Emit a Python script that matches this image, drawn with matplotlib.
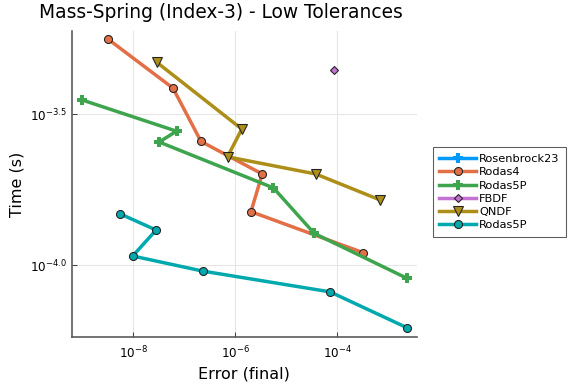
import matplotlib
matplotlib.use("Agg")
import matplotlib.pyplot as plt
import numpy as np

# data (log10 values)
rosen23_err = []
rosen23_time = []
rodas4_err = [-8.49, -7.22, -6.67, -5.47, -5.69, -3.49]
rodas4_time = [-3.251, -3.413, -3.590, -3.698, -3.823, -3.959]
rodas5p_err = [-9.01, -7.15, -7.49, -5.25, -4.45, -2.63]
rodas5p_time = [-3.452, -3.556, -3.592, -3.744, -3.895, -4.044]
fbdf_err = [-4.07]
fbdf_time = [-3.352]
qndf_err = [-7.54, -5.87, -6.15, -4.42, -3.16]
qndf_time = [-3.327, -3.549, -3.641, -3.698, -3.784]
rodas5p2_err = [-8.26, -7.55, -8.01, -6.64, -4.14, -2.63]
rodas5p2_time = [-3.830, -3.884, -3.970, -4.020, -4.089, -4.208]

series = [
    ("Rosenbrock23", rosen23_err, rosen23_time, "#009AFA", "P", 8),
    ("Rodas4", rodas4_err, rodas4_time, "#E36F47", "o", 6),
    ("Rodas5P", rodas5p_err, rodas5p_time, "#3EA44E", "P", 7),
    ("FBDF", fbdf_err, fbdf_time, "#C371D2", "D", 4.5),
    ("QNDF", qndf_err, qndf_time, "#AC8E18", "v", 7),
    ("Rodas5P", rodas5p2_err, rodas5p2_time, "#00A9AD", "o", 6),
]

fig = plt.figure(figsize=(6, 4), dpi=96)
ax = fig.add_axes([0.125, 0.123, 0.5984, 0.796])

for name, e, t, c, m, ms in series:
    e = 10.0 ** np.array(e, dtype=float)
    t = 10.0 ** np.array(t, dtype=float)
    if m == "P":
        ax.plot(e, t, color=c, lw=2.6, marker="+", ms=ms, mew=3, label=name)
    else:
        ax.plot(e, t, color=c, lw=2.6, marker=m, ms=ms, mfc=c, mec="#222222",
                mew=0.8, label=name)

ax.set_xscale("log")
ax.set_yscale("log")
ax.set_xlim(10 ** -9.2, 10 ** -2.44)
ax.set_ylim(10 ** -4.238, 10 ** -3.224)

ax.set_xticks([1e-8, 1e-6, 1e-4])
ax.set_xticklabels([r"$10^{-8}$", r"$10^{-6}$", r"$10^{-4}$"])
ax.set_yticks([10 ** -4.0, 10 ** -3.5])
ax.set_yticklabels([r"$10^{-4.0}$", r"$10^{-3.5}$"])
ax.minorticks_off()
ax.tick_params(which="both", direction="in", length=4, width=0.8, colors="#444444",
               labelcolor="black", labelsize=9)
ax.tick_params(axis="x", pad=6)
ax.grid(True, color="#E5E5E5", lw=0.8)
ax.set_axisbelow(True)
for s in ["top", "right"]:
    ax.spines[s].set_visible(False)
for s in ["left", "bottom"]:
    ax.spines[s].set_color("#555555")
    ax.spines[s].set_linewidth(1.2)

fig.text(221 / 576, 1 - 12 / 384, "Mass-Spring (Index-3) - Low Tolerances",
         fontsize=14, ha="center", va="center")
ax.set_xlabel("Error (final)", fontsize=12)
ax.set_ylabel("Time (s)", fontsize=12)

leg = ax.legend(loc="upper left", bbox_to_anchor=(1.03, 0.638), fontsize=8.5,
                frameon=True, fancybox=False, edgecolor="#333333",
                handlelength=3.2, borderpad=0.6, labelspacing=0.28,
                handletextpad=0.3)
leg.get_frame().set_linewidth(0.8)

fig.savefig("out.png", dpi=96)
